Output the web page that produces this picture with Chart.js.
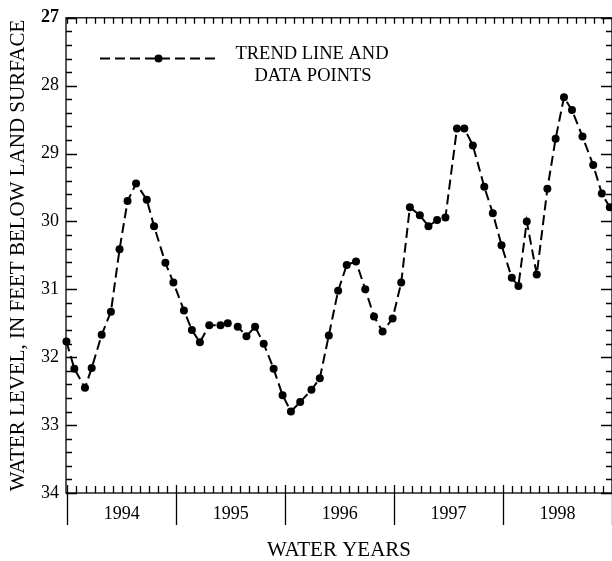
<!DOCTYPE html>
<html>
<head>
<meta charset="utf-8">
<script src="https://cdn.jsdelivr.net/npm/chart.js@4.4.1/dist/chart.umd.min.js"></script>
<style>
  html, body { margin: 0; padding: 0; background: #fff; overflow: hidden; }
  #wrap { width: 616px; height: 561px; }
</style>
</head>
<body>
<div id="wrap"><canvas id="c" width="616" height="561"></canvas></div>
<script>
// months counted from 1 Oct 1993 (start of water year 1994)
const monthsSinceOct1993 = [
  -0.1, 0.77, 1.94, 2.68, 3.78, 4.8, 5.75, 6.63, 7.57, 8.75, 9.55, 10.8, 11.68,
  12.84, 13.72, 14.6, 15.63, 16.87, 17.67, 18.77, 19.73, 20.68, 21.63, 22.72, 23.71,
  24.63, 25.65, 26.89, 27.81, 28.8, 29.83, 30.78, 31.8, 32.82, 33.78, 34.73, 35.83,
  36.78, 37.73, 38.83, 39.78, 40.73, 41.65, 42.92, 43.73, 44.67, 45.93, 46.87, 47.83,
  48.96, 49.69, 50.61, 51.71, 52.88, 53.79, 54.71, 55.59, 56.75, 57.93, 58.88, 59.76
];
const waterLevelFt = [
  31.77, 32.17, 32.45, 32.16, 31.67, 31.33, 30.41, 29.70, 29.44, 29.68, 30.07, 30.61, 30.90,
  31.31, 31.60, 31.78, 31.53, 31.53, 31.50, 31.55, 31.69, 31.55, 31.80, 32.17, 32.56,
  32.80, 32.66, 32.48, 32.31, 31.68, 31.02, 30.64, 30.59, 31.00, 31.40, 31.62, 31.43,
  30.90, 29.79, 29.91, 30.07, 29.98, 29.94, 28.63, 28.63, 28.88, 29.49, 29.88, 30.35,
  30.83, 30.95, 30.00, 30.78, 29.52, 28.78, 28.17, 28.36, 28.75, 29.17, 29.59, 29.79
];
const waterYears = ["1994", "1995", "1996", "1997", "1998"];
const legendLines = ["TREND LINE AND", "DATA POINTS"];

const SERIF = "'Liberation Serif', 'DejaVu Serif', serif";

const framePlugin = {
  id: "frame",
  afterDraw(chart) {
    const { ctx, chartArea: a, scales } = chart;
    const xs = scales.x, ys = scales.y;
    ctx.save();
    ctx.strokeStyle = "#000";
    ctx.lineWidth = 1.3;
    ctx.setLineDash([]);
    ctx.strokeRect(a.left, a.top, a.right - a.left, a.bottom - a.top);

    // y ticks, inward on both sides
    ctx.beginPath();
    for (let i = 0; i <= 35; i++) {
      const v = 27 + i * 0.2;
      const y = Math.round(ys.getPixelForValue(v)) + 0.5;
      const len = i % 5 === 0 ? 11 : 6;
      ctx.moveTo(a.left, y); ctx.lineTo(a.left + len, y);
      ctx.moveTo(a.right, y); ctx.lineTo(a.right - len, y);
    }
    // month ticks top and bottom
    for (let m = 0; m <= 60; m++) {
      const x = Math.round(xs.getPixelForValue(m)) + 0.5;
      ctx.moveTo(x, a.top); ctx.lineTo(x, a.top + 6);
      if (m % 12 === 0) {
        ctx.moveTo(x, a.bottom - 8); ctx.lineTo(x, a.bottom + 32);
      } else {
        ctx.moveTo(x, a.bottom); ctx.lineTo(x, a.bottom - 7);
      }
    }
    ctx.stroke();

    // water year labels
    ctx.fillStyle = "#000";
    ctx.font = "18px " + SERIF;
    ctx.textAlign = "center";
    ctx.textBaseline = "middle";
    waterYears.forEach((yr, i) => {
      ctx.fillText(yr, xs.getPixelForValue(i * 12 + 6), a.bottom + 21);
    });

    // legend
    ctx.lineWidth = 2;
    ctx.setLineDash([10, 5]);
    ctx.beginPath();
    ctx.moveTo(100, 58.5); ctx.lineTo(216, 58.5);
    ctx.stroke();
    ctx.setLineDash([]);
    ctx.beginPath();
    ctx.arc(158.5, 58.5, 4, 0, Math.PI * 2);
    ctx.fill();
    ctx.font = "18.5px " + SERIF;
    ctx.fillText(legendLines[0], 312, 54);
    ctx.fillText(legendLines[1], 313, 76);
    ctx.restore();
  }
};

new Chart(document.getElementById("c"), {
  type: "line",
  data: {
    datasets: [{
      data: monthsSinceOct1993.map((m, i) => ({ x: m, y: waterLevelFt[i] })),
      borderColor: "#000",
      backgroundColor: "#000",
      borderWidth: 2,
      borderDash: [10, 5],
      pointRadius: 4,
      pointBorderWidth: 0,
      tension: 0,
      clip: false,
    }],
  },
  options: {
    responsive: false,
    animation: false,
    events: [],
    layout: { padding: { top: 12, right: 2, left: 0, bottom: 0 } },
    plugins: { legend: { display: false }, tooltip: { enabled: false } },
    scales: {
      x: {
        type: "linear",
        min: -0.15,
        max: 60,
        grid: { display: false, drawTicks: false },
        border: { display: false },
        ticks: { display: false },
        title: {
          display: true,
          text: "WATER YEARS",
          color: "#000",
          font: { family: SERIF, size: 21, lineHeight: 1 },
          padding: { top: 0, bottom: 0 },
        },
        afterFit(scale) { scale.height = 68; },
      },
      y: {
        reverse: true,
        min: 27,
        max: 34,
        grid: { display: false, drawTicks: false },
        border: { display: false },
        ticks: {
          stepSize: 1,
          padding: 7,
          color: "#000",
          font: (c) => ({ family: SERIF, size: 18, weight: c.tick && c.tick.value === 27 ? "bold" : "normal" }),
        },
        title: {
          display: true,
          text: "WATER LEVEL, IN FEET BELOW LAND SURFACE",
          color: "#000",
          font: { family: SERIF, size: 21, lineHeight: 1.2 },
          padding: { top: 6, bottom: 0 },
        },
        afterFit(scale) { scale.width = 66; },
      },
    },
  },
  plugins: [framePlugin],
});
</script>
</body>
</html>
